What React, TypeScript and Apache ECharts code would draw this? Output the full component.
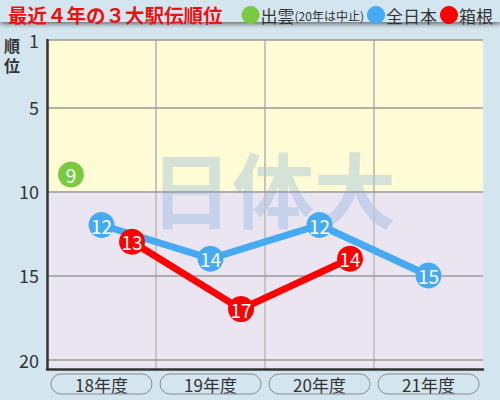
import React, { useEffect, useRef } from 'react';
import * as echarts from 'echarts';

const years = ['18年度', '19年度', '20年度', '21年度'];
const izumo = [9, null, null, null];
const zennihon = [12, 14, 12, 15];
const hakone = [13, 17, 14, null];
const rankTicks = [1, 5, 10, 15, 20];

const FONT = '"Noto Sans CJK JP", "Noto Sans", sans-serif';

// place each race beside the year centre
const toPoints = (values: (number | null)[], shift: number) =>
  values
    .map((v, i) => (v == null ? null : [i + shift, v]))
    .filter((p) => p !== null);

// dividers between the years (not at the right edge)
const yearBounds = years.slice(1).map((_, i) => i + 0.5);

const pointLabel = {
  show: true,
  position: 'inside',
  color: '#fff',
  fontSize: 19,
  fontFamily: FONT,
  formatter: (p: any) => String(p.value[1]),
};

const sideText = (t: string, top: number) => ({
  type: 'text',
  left: 4,
  top,
  style: { text: t, fontSize: 16, lineHeight: 18, fill: '#333', fontFamily: FONT, fontWeight: 'bold' },
});

const App: React.FC = () => {
  const chartRef = useRef<HTMLDivElement>(null);

  useEffect(() => {
    if (!chartRef.current) return;
    const chart = echarts.init(chartRef.current, null, { renderer: 'svg' });

    const options: any = {
      animation: false,
      backgroundColor: '#d3e5ee',
      textStyle: { fontFamily: FONT },
      title: {
        text: '最近４年の３大駅伝順位',
        left: 3,
        top: 0,
        textStyle: { color: '#ee1111', fontSize: 19.5, fontWeight: 'bold', fontFamily: FONT },
      },
      legend: {
        right: 2,
        top: 1,
        itemGap: 3,
        itemWidth: 18,
        itemHeight: 18,
        icon: 'circle',
        data: ['出雲', '全日本', '箱根'],
        formatter: (name: string) => (name === '出雲' ? '{a|出雲}{b|(20年は中止)}' : '{a|' + name + '}'),
        textStyle: {
          padding: [0, 0, 0, -4],
          rich: {
            a: { fontSize: 17, color: '#333', fontFamily: FONT },
            b: { fontSize: 12, color: '#333', fontFamily: FONT },
          },
        },
      },
      graphic: [
        {
          type: 'rect',
          z: -10,
          shape: { x: 0, y: -5, width: 500, height: 27 },
          style: { fill: '#d3e5ee', shadowBlur: 5, shadowOffsetY: 2, shadowColor: 'rgba(0,0,0,0.55)' },
        },
        sideText('順', 36),
        sideText('位', 56),
        {
          type: 'text',
          left: 150,
          top: 145,
          z: 1,
          style: {
            text: '日体大',
            fontSize: 82,
            fontWeight: 'bold',
            fill: 'rgba(105,160,220,0.28)',
            fontFamily: FONT,
          },
        },
      ],
      grid: { left: 47, right: 17, top: 40, bottom: 31 },
      xAxis: [
        {
          type: 'category',
          data: years,
          boundaryGap: true,
          z: 2,
          axisLine: { show: true, lineStyle: { color: '#333', width: 2.5 } },
          axisTick: { show: false },
          splitLine: { show: false },
          axisLabel: {
            margin: 5,
            formatter: (v: string) => '{p|' + v + '}',
            rich: {
              p: {
                width: 101,
                height: 20,
                lineHeight: 20,
                align: 'center',
                borderColor: '#8a8a8a',
                borderWidth: 1,
                borderRadius: 10,
                fontSize: 17,
                color: '#333',
                fontFamily: FONT,
              },
            },
          },
        },
        {
          type: 'value',
          min: -0.5,
          max: 3.5,
          position: 'bottom',
          z: 1,
          axisLine: { show: false },
          axisTick: { show: false, customValues: yearBounds },
          axisLabel: { show: false, customValues: yearBounds },
          splitLine: { show: true, lineStyle: { color: '#c4c4c4', width: 2 } },
        },
      ],
      yAxis: {
        type: 'value',
        inverse: true,
        min: 1,
        max: 20.56,
        z: 2,
        axisLine: { show: true, onZero: false, lineStyle: { color: '#333', width: 2.5 } },
        axisTick: { show: false, customValues: rankTicks },
        axisLabel: { customValues: rankTicks, fontSize: 18, color: '#333', margin: 8, fontFamily: FONT },
        splitLine: { show: true, lineStyle: { color: '#9a9a9a', width: 1.5 } },
      },
      series: [
        {
          name: 'bg',
          type: 'line',
          xAxisIndex: 1,
          z: -5,
          data: [],
          markArea: {
            silent: true,
            z: -5,
            data: [
              [{ yAxis: 1, itemStyle: { color: '#fffbd4' } }, { yAxis: 10 }],
              [{ yAxis: 10, itemStyle: { color: '#ebe5f1' } }, { yAxis: 20.56 }],
            ],
          },
        },
        {
          name: '出雲',
          type: 'line',
          xAxisIndex: 1,
          z: 5,
          color: '#7ac943',
          symbol: 'circle',
          symbolSize: 26,
          lineStyle: { width: 7 },
          data: toPoints(izumo, -0.28),
          label: pointLabel,
        },
        {
          name: '全日本',
          type: 'line',
          xAxisIndex: 1,
          z: 5,
          color: '#45aaf2',
          symbol: 'circle',
          symbolSize: 26,
          lineStyle: { width: 7 },
          data: toPoints(zennihon, 0),
          label: pointLabel,
        },
        {
          name: '箱根',
          type: 'line',
          xAxisIndex: 1,
          z: 6,
          color: '#ff0000',
          symbol: 'circle',
          symbolSize: 26,
          lineStyle: { width: 7 },
          data: toPoints(hakone, 0.28),
          label: pointLabel,
        },
      ],
    };

    chart.setOption(options);
    return () => {
      chart.dispose();
    };
  }, []);

  return (
    <div
      ref={chartRef}
      style={{ position: 'fixed', left: 0, top: 0, width: 500, height: 400 }}
    />
  );
};

export default App;
